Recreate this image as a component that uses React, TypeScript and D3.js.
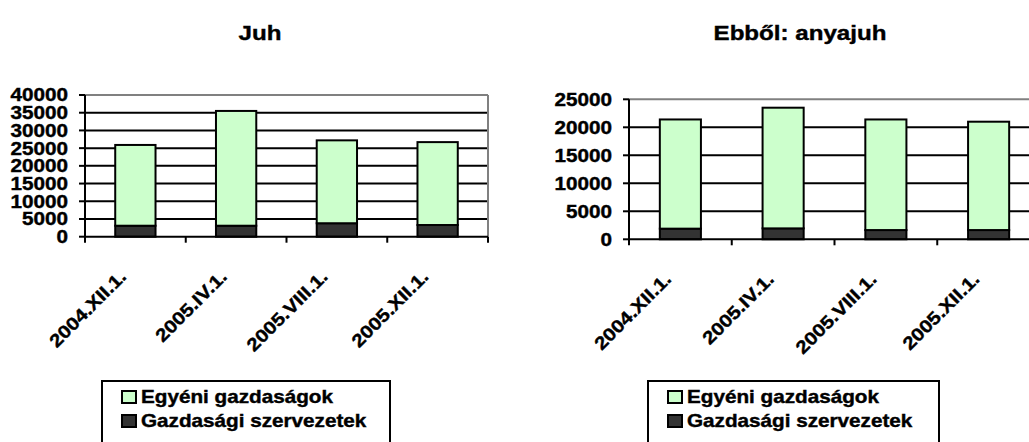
import React from 'react';
import * as d3 from 'd3';

// dátumok (x tengely)
const categories = ['2004.XII.1.', '2005.IV.1.', '2005.VIII.1.', '2005.XII.1.'];

// Juh
const juhGazdasagi = [3100, 3100, 3800, 3300];
const juhEgyeni = [22800, 32400, 23400, 23400];
const juhTicks = [0, 5000, 10000, 15000, 20000, 25000, 30000, 35000, 40000];

// Ebből: anyajuh
const anyajuhGazdasagi = [1900, 1950, 1650, 1650];
const anyajuhEgyeni = [19500, 21550, 19750, 19350];
const anyajuhTicks = [0, 5000, 10000, 15000, 20000, 25000];

const seriesNames = ['Egyéni gazdaságok', 'Gazdasági szervezetek'];

const FONT = '"Liberation Sans", Arial, sans-serif';
const SX = 1.15; // kicsit szélesített betűk
const LIGHT = '#CCFFCC';
const DARK = '#333333';

interface ChartProps {
    title: string;
    titleX: number;
    egyeni: number[];
    gazdasagi: number[];
    ticks: number[];
    x0: number;
    x1: number;
    yTop: number;
    yBottom: number;
    legendX: number;
    legendW: number;
}

const Chart: React.FC<ChartProps> = ({ title, titleX, egyeni, gazdasagi, ticks, x0, x1, yTop, yBottom, legendX, legendW }) => {
    const xScale = d3.scaleBand<string>().domain(categories).range([x0, x1]).padding(0);
    const yScale = d3.scaleLinear().domain([0, d3.max(ticks) || 0]).range([yBottom, yTop]);
    const bw = xScale.bandwidth();
    const barW = bw * 0.4;

    const rows = categories.map((c, i) => ({ cat: c, gazd: gazdasagi[i], egy: egyeni[i] }));
    const stack = d3.stack<{ cat: string; gazd: number; egy: number }>().keys(['gazd', 'egy']);
    const layers = stack(rows);
    const colors = [DARK, LIGHT];

    const edges = categories.map(c => xScale(c) || 0).concat([x1]);

    return (
        <g fontFamily={FONT} fontWeight="bold" fill="#000">
            <text transform={`translate(${titleX},40) scale(${SX},1)`} textAnchor="middle" fontSize={21}
                stroke="#000" strokeWidth={0.4}>{title}</text>

            {/* rácsvonalak */}
            {ticks.filter(t => t > 0 && t < (d3.max(ticks) || 0)).map(t => (
                <line key={t} x1={x0} x2={x1} y1={yScale(t)} y2={yScale(t)} stroke="#000" strokeWidth={2} />
            ))}
            {/* plot keret teteje és jobb oldala */}
            <line x1={x0} x2={x1} y1={yTop} y2={yTop} stroke="#808080" strokeWidth={2} />
            <line x1={x1} x2={x1} y1={yTop} y2={yBottom} stroke="#808080" strokeWidth={2} />

            {/* oszlopok */}
            {layers.map((layer, li) => layer.map((d, i) => (
                <rect key={`${li}-${i}`}
                    x={(xScale(categories[i]) || 0) + (bw - barW) / 2}
                    y={yScale(d[1])}
                    width={barW}
                    height={yScale(d[0]) - yScale(d[1])}
                    fill={colors[li]} stroke="#000" strokeWidth={2} />
            )))}

            {/* y tengely */}
            <line x1={x0} x2={x0} y1={yTop} y2={yBottom} stroke="#000" strokeWidth={2} />
            {ticks.map(t => (
                <g key={t}>
                    <line x1={x0 - 6} x2={x0} y1={yScale(t)} y2={yScale(t)} stroke="#000" strokeWidth={2} />
                    <text transform={`translate(${x0 - 17},${yScale(t)}) scale(${SX},1)`} textAnchor="end" dy="0.36em" fontSize={18}
                        stroke="#000" strokeWidth={0.4}>{t}</text>
                </g>
            ))}

            {/* x tengely */}
            <line x1={x0} x2={x1} y1={yBottom} y2={yBottom} stroke="#000" strokeWidth={2} />
            {edges.map((e, i) => (
                <line key={i} x1={e} x2={e} y1={yBottom} y2={yBottom + 6} stroke="#000" strokeWidth={2} />
            ))}
            {categories.map(c => (
                <text key={c}
                    transform={`translate(${(xScale(c) || 0) + bw / 2 - 8},${yBottom + 41}) rotate(-45) scale(${SX},1)`}
                    textAnchor="end" fontSize={18} stroke="#000" strokeWidth={0.4}>{c}</text>
            ))}

            {/* jelmagyarázat */}
            <rect x={legendX} y={381} width={legendW} height={80} fill="#fff" stroke="#000" strokeWidth={2} />
            {seriesNames.map((s, i) => (
                <g key={s}>
                    <rect x={legendX + 20} y={391 + i * 24} width={14} height={12} fill={i === 0 ? LIGHT : DARK} stroke="#000" strokeWidth={2} />
                    <text transform={`translate(${legendX + 39},${403 + i * 24}) scale(${SX},1)`} fontSize={18}
                        stroke="#000" strokeWidth={0.4}>{s}</text>
                </g>
            ))}
        </g>
    );
};

export default function App() {
    return (
        <svg width={1029} height={442} style={{ position: 'absolute', left: 0, top: 0, display: 'block', background: '#fff' }}>
            <Chart title="Juh" titleX={260} egyeni={juhEgyeni} gazdasagi={juhGazdasagi} ticks={juhTicks}
                x0={85} x1={488} yTop={95} yBottom={236.7} legendX={102} legendW={288} />
            <Chart title="Ebből: anyajuh" titleX={800} egyeni={anyajuhEgyeni} gazdasagi={anyajuhGazdasagi} ticks={anyajuhTicks}
                x0={629} x1={1040} yTop={99.3} yBottom={239.3} legendX={648} legendW={291} />
        </svg>
    );
}
